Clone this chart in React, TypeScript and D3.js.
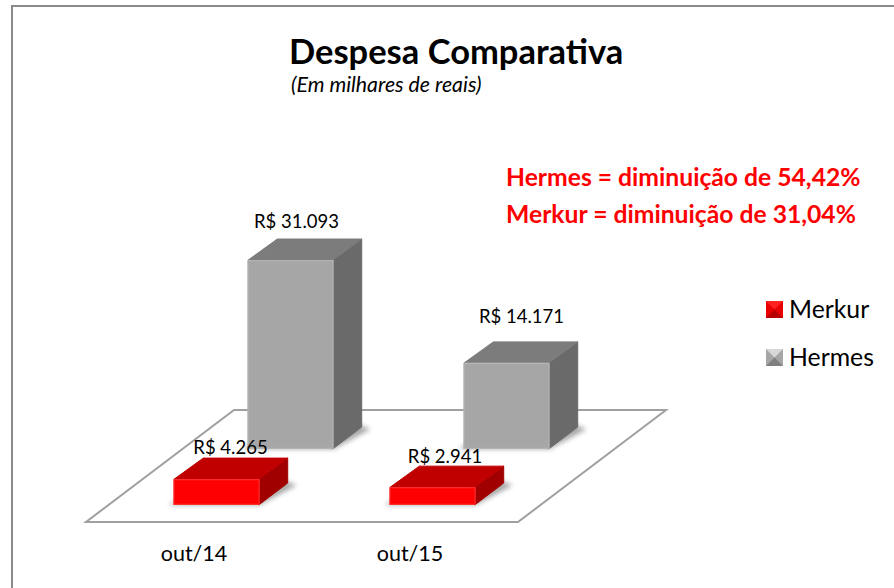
import React, { useEffect, useRef } from "react";
import * as d3 from "d3";

const categories = ["out/14", "out/15"];
const seriesNames = ["Merkur", "Hermes"];
const merkurValues = [4265, 2941];
const hermesValues = [31093, 14171];
const valueLabels = [
  ["R$ 4.265", "R$ 2.941"],
  ["R$ 31.093", "R$ 14.171"],
];
const notes = ["Hermes = diminuição de 54,42%", "Merkur = diminuição de 31,04%"];

const font = "Lato, Carlito, sans-serif";

const App = () => {
  const ref = useRef<SVGSVGElement>(null);

  useEffect(() => {
    const svg = d3.select(ref.current);
    svg.selectAll("*").remove();

    // floor parallelogram corners
    const floorLeft = 86;
    const floorRight = 518;
    const floorFront = 522;
    const floorBack = 410;
    const skewX = 148;

    const xScale = d3.scaleBand().domain(categories).range([floorLeft, floorRight]);
    const depthScale = d3.scaleBand().domain(seriesNames).range([0, 1]);
    const yScale = d3.scaleLinear().domain([0, 31093]).range([0, 189]);

    const barWidth = xScale.bandwidth() * 0.4;
    const barDepth = depthScale.bandwidth() * 0.392;
    const floorDepth = floorFront - floorBack;

    // data labels were hand-placed in the original, so they don't follow the bars exactly
    const labelShift = [
      [
        [14, -3],
        [12.5, -2],
      ],
      [
        [6, -10],
        [15, -18],
      ],
    ];

    const defs = svg.append("defs");
    defs
      .append("filter")
      .attr("id", "shadow")
      .attr("x", "-20%")
      .attr("y", "-50%")
      .attr("width", "140%")
      .attr("height", "200%")
      .append("feGaussianBlur")
      .attr("stdDeviation", 2.5);
    const blur = defs.append("filter").attr("id", "soft");
    blur.append("feGaussianBlur").attr("stdDeviation", 0.6);

    // frame runs off the right and bottom of the page
    svg
      .append("path")
      .attr("d", "M12,600V6H900")
      .attr("fill", "none")
      .attr("stroke", "#8a8a8a")
      .attr("stroke-width", 2);

    svg
      .append("path")
      .attr(
        "d",
        `M${floorLeft},${floorFront}L${floorRight},${floorFront}L${floorRight + skewX},${floorBack}L${floorLeft + skewX},${floorBack}Z`
      )
      .attr("fill", "#fff")
      .attr("stroke", "#a0a0a0")
      .attr("stroke-width", 2);

    const seriesValues = [merkurValues, hermesValues];
    const seriesColors = [
      { front: "#ff0000", top: "#c00000", side: "#a00000", edge: "#ff2a2a" },
      { front: "#a6a6a6", top: "#7c7c7c", side: "#6a6a6a", edge: "#b4b4b4" },
    ];

    // back series first so the front blocks overlap it
    [1, 0].forEach((s) => {
      const colors = seriesColors[s];
      const group = svg.append("g");
      categories.forEach((cat, c) => {
        const value = seriesValues[s][c];
        const t = depthScale(seriesNames[s])! + (depthScale.bandwidth() - barDepth) / 2;
        const dx = barDepth * skewX;
        const dy = barDepth * floorDepth;
        const x0 = xScale(cat)! + (xScale.bandwidth() - barWidth) / 2 + t * skewX;
        const x1 = x0 + barWidth;
        const yBottom = floorFront - t * floorDepth;
        const yTop = yBottom - yScale(value);

        group
          .append("path")
          .attr(
            "d",
            `M${x0 - 5},${yBottom}L${x1},${yBottom}L${x1 + dx + 8},${yBottom - dy + 2}L${x1 + dx - 4},${yBottom - dy - 2}L${x0 + 2},${yBottom - 4}Z`
          )
          .attr("fill", "#000")
          .attr("opacity", 0.35)
          .attr("filter", "url(#shadow)");

        group
          .append("path")
          .attr("d", `M${x1 - 1},${yBottom}L${x1 - 1 + dx},${yBottom - dy}V${yTop - dy + 1}L${x1 - 1},${yTop}Z`)
          .attr("fill", colors.side)
          .attr("stroke", colors.side)
          .attr("stroke-linejoin", "round");
        group
          .append("path")
          .attr("d", `M${x0 + 1},${yTop}L${x0 + 1 + dx},${yTop - dy + 1}H${x1 - 1 + dx}L${x1 - 1},${yTop}Z`)
          .attr("fill", colors.top)
          .attr("stroke", colors.top)
          .attr("stroke-linejoin", "round");
        group
          .append("rect")
          .attr("x", x0 + 0.6)
          .attr("y", yTop + 0.6)
          .attr("width", barWidth - 1.2)
          .attr("height", yBottom - yTop - 1.2)
          .attr("fill", colors.front)
          .attr("stroke", colors.edge)
          .attr("stroke-width", 1.2)
          .attr("filter", "url(#soft)");

        const [shiftX, shiftY] = labelShift[s][c];
        group
          .append("text")
          .attr("x", x0 + barWidth / 2 + shiftX)
          .attr("y", yTop - dy + shiftY)
          .attr("text-anchor", "middle")
          .attr("font-size", 18.5)
          .attr("fill", "#000")
          .text(valueLabels[s][c]);
      });
    });

    // category labels
    svg
      .append("g")
      .selectAll("text")
      .data(categories)
      .join("text")
      .attr("x", (d) => xScale(d)! + xScale.bandwidth() / 2)
      .attr("y", 561)
      .attr("font-size", 21.5)
      .attr("fill", "#000")
      .attr("text-anchor", "middle")
      .text((d) => d);

    svg
      .append("text")
      .attr("x", 289)
      .attr("y", 64)
      .attr("font-size", 34.5)
      .attr("font-weight", 700)
      .attr("fill", "#000")
      .text("Despesa Comparativa");
    svg
      .append("text")
      .attr("x", 291)
      .attr("y", 92)
      .attr("font-size", 21.3)
      .attr("font-style", "italic")
      .attr("fill", "#000")
      .text("(Em milhares de reais)");

    svg
      .append("g")
      .selectAll("text")
      .data(notes)
      .join("text")
      .attr("x", 506)
      .attr("y", (d, i) => 186 + i * 37)
      .attr("font-size", 24.7)
      .attr("font-weight", 700)
      .attr("fill", "#ff0000")
      .text((d) => d);

    // legend
    const legendY = d3.scalePoint().domain(seriesNames).range([309.5, 357.5]);
    const legendColors = [
      { light: "#ff2020", dark: "#b80000", mid: "#e80000" },
      { light: "#d8d8d8", dark: "#808080", mid: "#a6a6a6" },
    ];
    seriesNames.forEach((name, i) => {
      const y = legendY(name)!;
      const c = legendColors[i];
      const x = 766;
      const s = 17;
      const top = y - s / 2;
      const g = svg.append("g");
      g.append("rect").attr("x", x).attr("y", top).attr("width", s).attr("height", s).attr("fill", c.mid);
      g.append("path")
        .attr("d", `M${x},${top}H${x + s}L${x + s / 2},${top + s / 2}Z`)
        .attr("fill", c.light);
      g.append("path")
        .attr("d", `M${x},${top + s}H${x + s}L${x + s / 2},${top + s / 2}Z`)
        .attr("fill", c.dark);
      g.append("text")
        .attr("x", 789)
        .attr("y", y + 8)
        .attr("font-size", 24.8)
        .attr("fill", "#000")
        .text(name);
    });
  });

  return (
    <svg
      ref={ref}
      width={894}
      height={588}
      style={{ position: "fixed", left: 0, top: 0, background: "#fff", fontFamily: font }}
    />
  );
};

export default App;
